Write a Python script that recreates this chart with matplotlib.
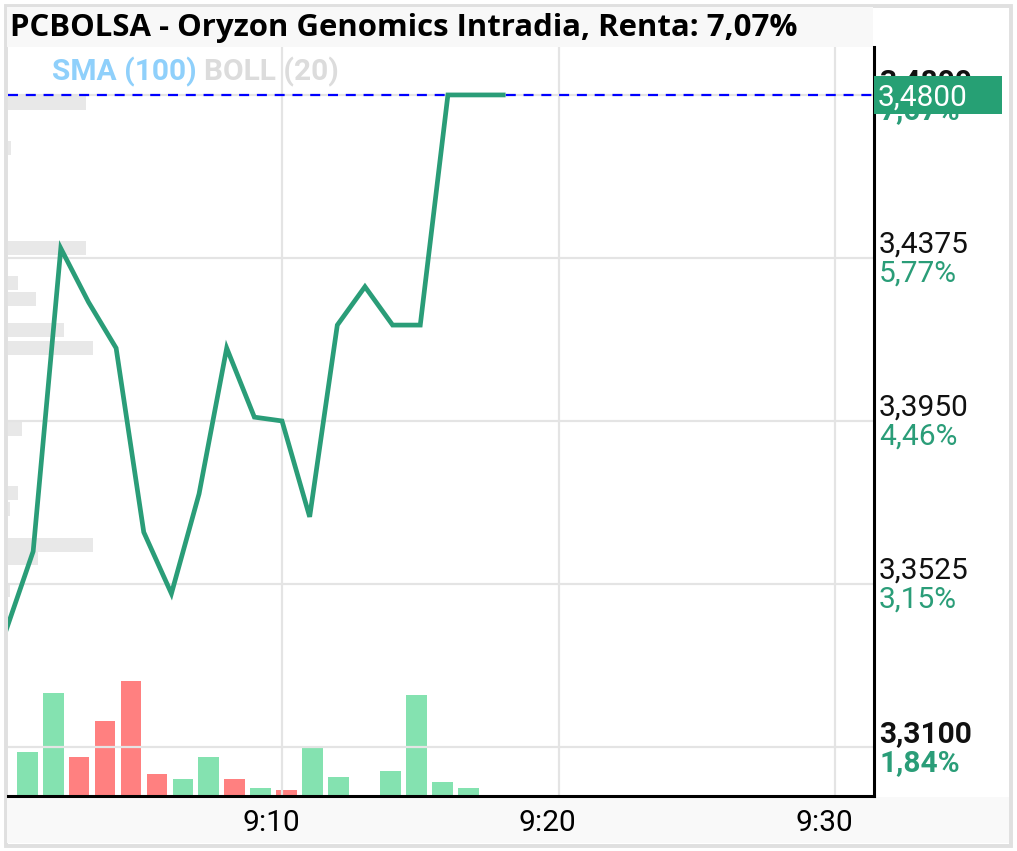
import matplotlib
matplotlib.use("Agg")
import matplotlib.pyplot as plt
import matplotlib.transforms as mtransforms
from matplotlib.patches import Rectangle

# precio intradia (minutos desde las 9:00)
minutes = [0, 1, 2, 3, 4, 5, 6, 7, 8, 9, 10, 11, 12, 13, 14, 15, 16, 17, 18]
prices = [3.340, 3.361, 3.440, 3.426, 3.414, 3.366, 3.350, 3.376, 3.414, 3.396,
          3.395, 3.370, 3.420, 3.430, 3.420, 3.420, 3.480, 3.480, 3.480]

# volumen por barra
vol_slots = list(range(18))
volumes = [4350, 10280, 3850, 7480, 11420, 2150, 1620, 3820, 1620, 750,
           520, 4950, 1850, 0, 2450, 10020, 1350, 750]
vol_up = [True, True, False, False, False, False, True, True, False, True,
          False, True, True, True, True, True, True, True]

# perfil de volumen por precio (izquierda)
prof_prices = [3.4779, 3.4662, 3.4401, 3.4310, 3.4268, 3.4187, 3.4140,
               3.3929, 3.3762, 3.3720, 3.3626, 3.3592, 3.3508]
prof_vol = [78, 3, 78, 10, 28, 56, 85, 14, 10, 2, 85, 30, 2]

yticks = [3.48, 3.4375, 3.3950, 3.3525, 3.3100]
ytick_lbl = ['3,4800', '3,4375', '3,3950', '3,3525', '3,3100']
pct_lbl = ['7,07%', '5,77%', '4,46%', '3,15%', '1,84%']
xticks = [10, 20, 30]
xtick_lbl = ['9:10', '9:20', '9:30']
last = 3.48
title = 'PCBOLSA - Oryzon Genomics Intradia, Renta: 7,07%'

green = '#2a9d78'
fsz = 21.5
W, H = 1017, 851
fig = plt.figure(figsize=(W / 100, H / 100), dpi=100)
fig.patch.set_facecolor('white')

def px(x0, y0, x1, y1):
    return [x0 / W, 1 - y1 / H, (x1 - x0) / W, (y1 - y0) / H]

# fondos: borde, barra del titulo, zona inferior
fig.patches.append(Rectangle((5.5 / W, 1 - 845.5 / H), 1005.5 / W, 840 / H, zorder=-2,
                             transform=fig.transFigure, fc='none', ec='#e0e0e0', lw=2.8))
fig.patches.append(Rectangle((7 / W, 1 - 47 / H), 866 / W, 40 / H, zorder=-2,
                             transform=fig.transFigure, fc='#f8f8f8', ec='none'))
fig.patches.append(Rectangle((7 / W, 1 - 843 / H), 1002 / W, 46 / H, zorder=-2,
                             transform=fig.transFigure, fc='#f9f9f9', ec='none'))

rect = px(8, 47, 874, 795.5)
ylo, yhi = 3.29735, 3.4925

# volumen
axv = fig.add_axes(rect)
axv.set_facecolor('white')
axv.bar(vol_slots, volumes, width=0.8,
        color=['#84e2b0' if u else '#ff8080' for u in vol_up], zorder=2)
axv.set_xlim(-0.74, 32.63)
axv.set_ylim(0, max(volumes) * 748.5 / 114.2)
axv.axis('off')

# perfil de volumen
axp = fig.add_axes(rect)
axp.set_facecolor('none')
axp.barh(prof_prices, prof_vol, height=0.0036, left=0, color='#e8e8e8')
axp.set_xlim(0, max(prof_vol) * 866 / 85)
axp.set_ylim(ylo, yhi)
axp.axis('off')

# precio
ax = fig.add_axes(rect)
ax.set_facecolor('none')
ax.set_xlim(0.09, 31.41)
ax.set_ylim(ylo, yhi)
for y in yticks:
    ax.axhline(y, color='#e4e4e4', lw=1.6, zorder=0)
for x in xticks:
    ax.axvline(x, color='#e4e4e4', lw=1.6, zorder=0)
ax.axhline(last, color='#0000ff', lw=1.6, ls=(0, (4.5, 3.5)), zorder=1)
ax.plot(minutes, prices, color=green, lw=3.4, solid_joinstyle='miter', zorder=3)

for s in ['top', 'left']:
    ax.spines[s].set_visible(False)
for s in ['bottom', 'right']:
    ax.spines[s].set_linewidth(2.2)
    ax.spines[s].set_color('black')
ax.set_yticks([])
ax.set_xticks(xticks)
ax.set_xticklabels(xtick_lbl, fontname='Roboto', fontsize=fsz, color='black')
ax.tick_params(axis='x', length=0, pad=10)
shift = mtransforms.ScaledTranslation(-11 / 100, 0, fig.dpi_scale_trans)
for lbl in ax.get_xticklabels():
    lbl.set_transform(lbl.get_transform() + shift)

# etiquetas del eje derecho
trans = mtransforms.blended_transform_factory(ax.transAxes, ax.transData)
up = mtransforms.offset_copy(trans, fig=fig, x=0, y=5, units='dots')
down = mtransforms.offset_copy(trans, fig=fig, x=0, y=-2, units='dots')
xl = 1 + 5 / 866
for i, y in enumerate(yticks):
    bold = 'bold' if i in (0, len(yticks) - 1) else 'normal'
    ax.text(xl, y, ytick_lbl[i], transform=up, ha='left', va='baseline',
            fontname='Roboto', fontsize=fsz, fontweight=bold, color='#111111', clip_on=False)
    ax.text(xl, y, pct_lbl[i], transform=down, ha='left', va='top',
            fontname='Roboto', fontsize=fsz, fontweight=bold, color=green, clip_on=False)

# caja del ultimo precio
ax.add_patch(Rectangle((1.0, last - 0.0049), 128 / 866, 0.0098, transform=trans,
                       fc='#26a074', ec='none', clip_on=False, zorder=5))
ax.text(1 + 4 / 866, last, '3,4800', transform=trans, ha='left', va='center_baseline',
        fontname='Roboto', fontsize=fsz, color='white', clip_on=False, zorder=6)

# indicadores
t1 = fig.text(52 / W, 1 - 72 / H, 'SMA (100)', fontname='Roboto', fontweight='bold',
              fontsize=21.5, color='#8fd0fb', va='center')
ax.annotate('BOLL (20)', xy=(1, 0), xycoords=t1, xytext=(7, 0), textcoords='offset pixels',
            fontname='Roboto', fontweight='bold', fontsize=21.5, color='#dcdcdc',
            va='bottom', ha='left', annotation_clip=False)

fig.text(10 / W, 1 - 28 / H, title, fontname='Open Sans', fontweight='bold',
         fontsize=22.4, color='black', va='center', ha='left')

fig.savefig('out.png', dpi=100)
